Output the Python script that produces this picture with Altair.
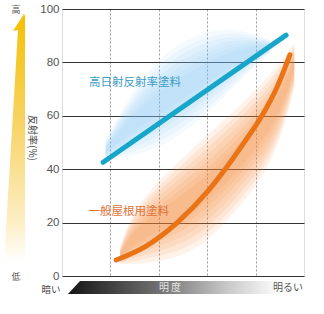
import altair as alt
import pandas as pd

# ---- data ----
blue_x = [0.85, 4.63]
blue_y = [42.6, 90.2]

orange_x = [1.12, 1.72, 2.38, 3.0, 3.37, 3.75, 4.13, 4.45, 4.71]
orange_y = [6, 11, 20, 31.5, 40, 49.7, 60, 71, 82.8]

blue_haze_x = [0.9, 1.47, 2.17, 3.0, 3.68, 4.3]
blue_haze_lo = [44, 47, 52, 63, 75, 84]
blue_haze_hi = [50, 68, 82, 89.5, 91, 88]

orange_haze_x = [1.2, 1.47, 2.17, 2.85, 3.53, 4.1, 4.5, 4.8]
orange_haze_lo = [5, 6, 8.6, 13.5, 26, 38.6, 52, 72]
orange_haze_hi = [10, 23.6, 36, 47, 58, 68.5, 77, 86]

y_ticks = [0, 20, 40, 60, 80, 100]
x_grid = [1, 2, 3, 4]

label_blue = "高日射反射率塗料"
label_orange = "一般屋根用塗料"

JP = "Noto Sans CJK JP"

xs = alt.Scale(domain=[0, 5], nice=False, zero=False)
ys = alt.Scale(domain=[0, 100], nice=False)

x_axis = alt.Axis(values=x_grid, labels=False, ticks=False, domain=False, title=None,
                  grid=True, gridColor="#9a9a9a", gridDash=[2, 2], gridWidth=1)
y_axis = alt.Axis(values=y_ticks, ticks=False, domain=False, title=None, grid=True,
                  gridColor="#333333", gridWidth=1.2, labelFont="Liberation Sans",
                  labelFontSize=11.5, labelColor="#555555", labelPadding=3)

blue_df = pd.DataFrame({"x": blue_x, "y": blue_y})
orange_df = pd.DataFrame({"x": orange_x, "y": orange_y})
bh_df = pd.DataFrame({"x": blue_haze_x, "lo": blue_haze_lo, "hi": blue_haze_hi})
oh_df = pd.DataFrame({"x": orange_haze_x, "lo": orange_haze_lo, "hi": orange_haze_hi})


def haze(df, color, factors, op):
    layers = []
    for f in factors:
        layers.append(
            alt.Chart(df).transform_calculate(
                c="(datum.lo + datum.hi) / 2"
            ).transform_calculate(
                lo2=f"datum.c + (datum.lo - datum.c) * {f}",
                hi2=f"datum.c + (datum.hi - datum.c) * {f}",
            ).mark_area(color=color, opacity=op, interpolate="basis").encode(
                x=alt.X("x:Q", scale=xs, axis=x_axis),
                y=alt.Y("lo2:Q", scale=ys, axis=y_axis),
                y2="hi2:Q",
            )
        )
    return layers


fac = [1.2, 1.05, 0.9, 0.75, 0.6, 0.45, 0.3]
blue_haze = haze(bh_df, "#80c6ee", fac, 0.085)
orange_haze = haze(oh_df, "#f28a35", fac, 0.11)

blue_line = alt.Chart(blue_df).mark_line(color="#15a6c9", strokeWidth=5, strokeCap="round").encode(
    x=alt.X("x:Q", scale=xs, axis=x_axis), y=alt.Y("y:Q", scale=ys, axis=y_axis))
orange_line = alt.Chart(orange_df).mark_line(color="#ea7316", strokeWidth=5, strokeCap="round",
                                             interpolate="monotone").encode(
    x=alt.X("x:Q", scale=xs, axis=x_axis), y=alt.Y("y:Q", scale=ys, axis=y_axis))

lab_df = pd.DataFrame({"x": [1.51, 1.38], "y": [72.3, 24], "t": [label_blue, label_orange],
                       "c": ["#3b9dc6", "#e0733a"]})
labels = alt.Chart(lab_df).mark_text(font=JP, fontSize=11.5).encode(
    x=alt.X("x:Q", scale=xs), y=alt.Y("y:Q", scale=ys), text="t:N",
    color=alt.Color("c:N", scale=None))

one = pd.DataFrame({"a": [1]})

# yellow arrow on the left
arrow_path = ("M 0.072 -1.008 L -0.016 -0.872 L 0.024 -0.88 L -0.088 0.976 "
              "L 0.08 0.976 L 0.08 -0.992 Z")
arrow = alt.Chart(one).mark_point(
    shape=arrow_path, filled=True, size=62500, opacity=1, strokeWidth=0,
    fill={"gradient": "linear", "x1": 0, "y1": 0, "x2": 0, "y2": 1,
          "stops": [{"offset": 0, "color": "#f5bf00"}, {"offset": 0.45, "color": "#f8d468"},
                    {"offset": 0.85, "color": "#fdefc8"}, {"offset": 1, "color": "#ffffff"}]}
).encode(x=alt.value(-47), y=alt.value(131))

# brightness bar at the bottom
bar_path = "M -1 0.061 L -0.887 -0.061 L 1 -0.061 L 1 0.061 Z"
bar = alt.Chart(one).mark_point(
    shape=bar_path, filled=True, size=44944, opacity=1, strokeWidth=0,
    fill={"gradient": "linear", "x1": 0, "y1": 0, "x2": 1, "y2": 0,
          "stops": [{"offset": 0, "color": "#151515"}, {"offset": 0.4, "color": "#6a6a6a"},
                    {"offset": 0.75, "color": "#c8c8c8"}, {"offset": 1, "color": "#ffffff"}]}
).encode(x=alt.value(112), y=alt.value(278.5))


def txt(t, x, y, size, color, angle=0, align="center"):
    kw = dict(text=t, font=JP, fontSize=size, color=color, align=align, baseline="middle")
    if angle:
        kw["angle"] = angle
    return alt.Chart(one).mark_text(**kw).encode(x=alt.value(x), y=alt.value(y))


texts = [
    txt("高", -46, 1, 9, "#555555"),
    txt("低", -46, 268, 9, "#555555"),
    txt("反射率(%)", -30, 129, 10, "#444444", angle=90),
    txt("暗い", -11, 280.5, 9.5, "#444444"),
    txt("明 度", 108, 279, 10, "#e6e6e6"),
    txt("明るい", 226, 279, 10, "#555555"),
]

chart = alt.layer(
    *blue_haze, *orange_haze, blue_line, orange_line, labels, arrow, bar, *texts
).properties(
    width=242, height=267,
    autosize=alt.AutoSizeParams(type="none"),
    padding={"left": 62, "top": 9, "right": 20, "bottom": 38},
).configure_view(stroke="#333333", strokeWidth=1.5).configure(background="white")

chart.save("out.html", embed_options={"renderer": "svg", "actions": False})
